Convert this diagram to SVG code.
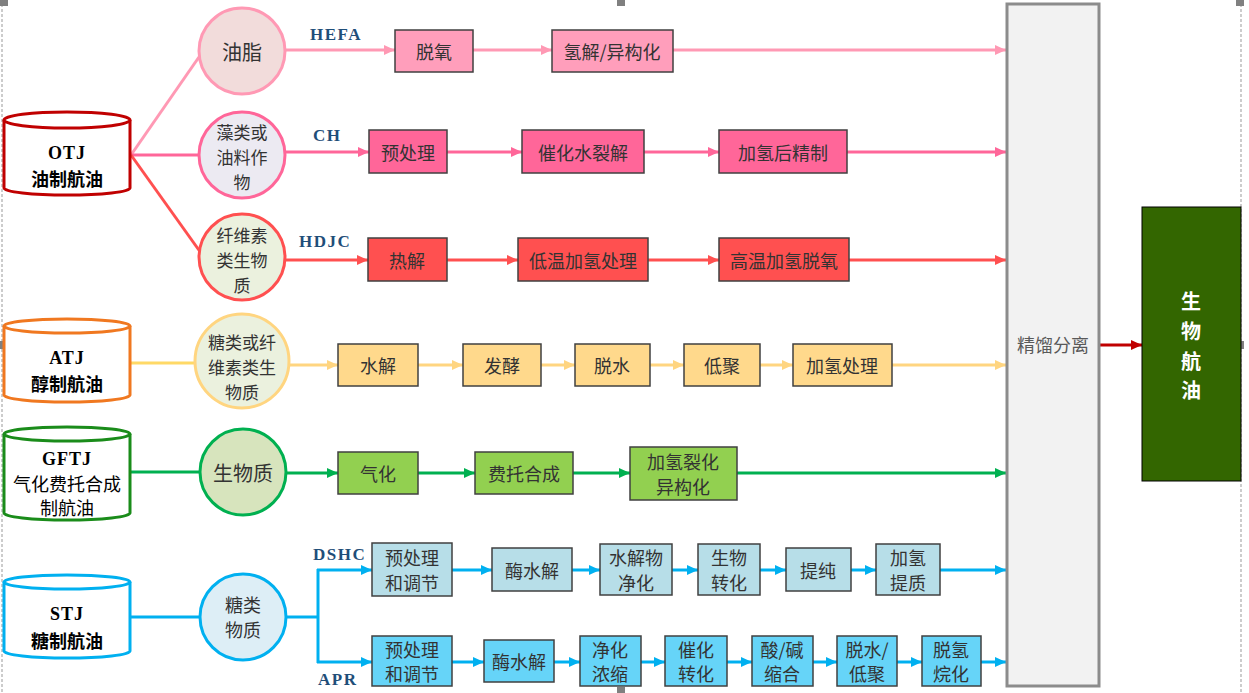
<svg xmlns="http://www.w3.org/2000/svg" width="1249" height="693" viewBox="0 0 1249 693">
<style>
text{font-family:"Noto Sans CJK SC","Liberation Sans",sans-serif;dominant-baseline:central;text-anchor:middle}
.bx{stroke:#404040;stroke-width:1.5}
.t{font-size:18px;fill:#333}
.ct{font-size:17px;fill:#333}
.ct1{font-size:20px;fill:#333}
.ct2{font-size:18px;fill:#333}
.lab{font-family:"Liberation Serif","Noto Sans CJK SC",serif;font-weight:bold;font-size:17px;letter-spacing:1.5px;fill:#1F4E79;dominant-baseline:auto;text-anchor:start}
.cy1{font-family:"Liberation Serif",serif;font-weight:bold;font-size:18px;letter-spacing:1px;fill:#000}
.cy2{font-size:18px;font-weight:bold;fill:#000}
.cy3{font-size:18px;font-weight:normal;fill:#000}
.l{fill:none;stroke-width:3}
</style>
<defs>
<marker id="a1" markerUnits="userSpaceOnUse" markerWidth="11" markerHeight="10" refX="11" refY="5" orient="auto"><path d="M0,0L11,5L0,10z" fill="#FF99B4"/></marker>
<marker id="a2" markerUnits="userSpaceOnUse" markerWidth="11" markerHeight="10" refX="11" refY="5" orient="auto"><path d="M0,0L11,5L0,10z" fill="#FF6699"/></marker>
<marker id="a3" markerUnits="userSpaceOnUse" markerWidth="11" markerHeight="10" refX="11" refY="5" orient="auto"><path d="M0,0L11,5L0,10z" fill="#FF5050"/></marker>
<marker id="a4" markerUnits="userSpaceOnUse" markerWidth="11" markerHeight="10" refX="11" refY="5" orient="auto"><path d="M0,0L11,5L0,10z" fill="#FFD580"/></marker>
<marker id="a5" markerUnits="userSpaceOnUse" markerWidth="11" markerHeight="10" refX="11" refY="5" orient="auto"><path d="M0,0L11,5L0,10z" fill="#00B050"/></marker>
<marker id="a6" markerUnits="userSpaceOnUse" markerWidth="11" markerHeight="10" refX="11" refY="5" orient="auto"><path d="M0,0L11,5L0,10z" fill="#00B0F0"/></marker>
<marker id="a7" markerUnits="userSpaceOnUse" markerWidth="11" markerHeight="10" refX="11" refY="5" orient="auto"><path d="M0,0L11,5L0,10z" fill="#C00000"/></marker>
</defs>
<rect width="1249" height="693" fill="#fff"/>
<g id="frame" stroke="#999" stroke-width="1" stroke-dasharray="3,2" fill="none">
<line x1="2" y1="4" x2="2" y2="693"/><line x1="1241" y1="4" x2="1241" y2="693"/>
</g>
<g id="handles" fill="#808080">
<rect x="0" y="0" width="8" height="6"/><rect x="617" y="0" width="8" height="6"/><rect x="1236" y="0" width="8" height="6"/>
<rect x="0" y="341" width="8" height="8"/><rect x="1236" y="341" width="8" height="8"/>
<rect x="617" y="687" width="8" height="6"/>
</g>

<g id="connectors">
<line class="l" x1="131" y1="155" x2="199" y2="57" stroke="#FF99B4"/>
<line class="l" x1="131" y1="155" x2="199" y2="155" stroke="#FF6699"/>
<line class="l" x1="131" y1="155" x2="201" y2="253" stroke="#FF5050"/>
<line class="l" x1="131" y1="363" x2="195" y2="363" stroke="#FFD966"/>
<line class="l" x1="131" y1="472" x2="200" y2="472" stroke="#00B050"/>
<line class="l" x1="131" y1="617" x2="199" y2="617" stroke="#00B0F0"/>
<g stroke="#FF99B4" class="l" marker-end="url(#a1)">
<line x1="285" y1="50" x2="395" y2="50"/><line x1="473" y1="50" x2="552" y2="50"/><line x1="673" y1="50" x2="1006" y2="50"/>
</g>
<g stroke="#FF6699" class="l" marker-end="url(#a2)">
<line x1="285" y1="152" x2="369" y2="152"/><line x1="447" y1="152" x2="522" y2="152"/><line x1="644" y1="152" x2="719" y2="152"/><line x1="847" y1="152" x2="1006" y2="152"/>
</g>
<g stroke="#FF5050" class="l" marker-end="url(#a3)">
<line x1="286" y1="260" x2="368" y2="260"/><line x1="447" y1="260" x2="518" y2="260"/><line x1="648" y1="260" x2="719" y2="260"/><line x1="849" y1="260" x2="1006" y2="260"/>
</g>
<g stroke="#FFD580" class="l" marker-end="url(#a4)">
<line x1="289" y1="365" x2="338" y2="365"/><line x1="418" y1="365" x2="463" y2="365"/><line x1="541" y1="365" x2="575" y2="365"/><line x1="650" y1="365" x2="684" y2="365"/><line x1="760" y1="365" x2="793" y2="365"/><line x1="892" y1="365" x2="1006" y2="365"/>
</g>
<g stroke="#00B050" class="l" marker-end="url(#a5)">
<line x1="286" y1="473" x2="338" y2="473"/><line x1="418" y1="473" x2="475" y2="473"/><line x1="573" y1="473" x2="630" y2="473"/><line x1="737" y1="473" x2="1006" y2="473"/>
</g>
<polyline class="l" stroke="#00B0F0" points="287,617 318,617"/>
<line class="l" stroke="#00B0F0" x1="318" y1="569" x2="318" y2="663"/>
<g stroke="#00B0F0" class="l" marker-end="url(#a6)">
<line x1="317" y1="570" x2="372" y2="570"/><line x1="452" y1="570" x2="492" y2="570"/><line x1="572" y1="570" x2="600" y2="570"/><line x1="672" y1="570" x2="698" y2="570"/><line x1="760" y1="570" x2="786" y2="570"/><line x1="851" y1="570" x2="876" y2="570"/><line x1="940" y1="570" x2="1006" y2="570"/>
<line x1="317" y1="662" x2="372" y2="662"/><line x1="452" y1="662" x2="484" y2="662"/><line x1="554" y1="662" x2="580" y2="662"/><line x1="641" y1="662" x2="665" y2="662"/><line x1="727" y1="662" x2="752" y2="662"/><line x1="813" y1="662" x2="837" y2="662"/><line x1="897" y1="662" x2="922" y2="662"/><line x1="981" y1="662" x2="1006" y2="662"/>
</g>
<line class="l" stroke="#C00000" x1="1100" y1="345" x2="1142" y2="345" marker-end="url(#a7)"/>
</g>

<g id="labels">
<text class="lab" x="310" y="40">HEFA</text>
<text class="lab" x="313" y="141">CH</text>
<text class="lab" x="299" y="247">HDJC</text>
<text class="lab" x="313" y="560">DSHC</text>
<text class="lab" x="318" y="685">APR</text>
</g>

<g id="otj" fill="#fff" stroke="#C00000" stroke-width="3">
<path d="M4,120 L4,188 A63,7 0 0 0 130,188 L130,120"/>
<ellipse cx="67" cy="120" rx="63" ry="8"/>
<text class="cy1" x="67" y="153" stroke="none">OTJ</text>
<text class="cy2" x="67" y="178" stroke="none">油制航油</text>
</g>
<g id="atj" fill="#fff" stroke="#F07820" stroke-width="3">
<path d="M4,326 L4,395 A63,7 0 0 0 130,395 L130,326"/>
<ellipse cx="67" cy="326" rx="63" ry="7"/>
<text class="cy1" x="67" y="358" stroke="none">ATJ</text>
<text class="cy2" x="67" y="383" stroke="none">醇制航油</text>
</g>
<g id="gftj" fill="#fff" stroke="#1A8C1A" stroke-width="3">
<path d="M4,434 L4,513 A63,7 0 0 0 130,513 L130,434"/>
<ellipse cx="67" cy="434" rx="63" ry="7"/>
<text class="cy1" x="67" y="459" stroke="none">GFTJ</text>
<text class="cy3" x="67" y="483" stroke="none">气化费托合成</text>
<text class="cy3" x="67" y="507" stroke="none">制航油</text>
</g>
<g id="stj" fill="#fff" stroke="#00B0F0" stroke-width="3">
<path d="M4,582 L4,651 A63,7 0 0 0 130,651 L130,582"/>
<ellipse cx="67" cy="582" rx="63" ry="7"/>
<text class="cy1" x="67" y="614" stroke="none">STJ</text>
<text class="cy2" x="67" y="640" stroke="none">糖制航油</text>
</g>

<g id="c-youzhi"><circle cx="242" cy="51" r="43" fill="#F2DCDB" stroke="#FF99B4" stroke-width="3"/><text class="ct1" x="242" y="51">油脂</text></g>
<g id="c-zaolei"><circle cx="242" cy="155" r="43" fill="#ECEAF2" stroke="#FF6699" stroke-width="3"/><text class="ct" x="242" y="131">藻类或</text><text class="ct" x="242" y="156">油料作</text><text class="ct" x="242" y="181">物</text></g>
<g id="c-xianwei"><circle cx="242" cy="257" r="43" fill="#EBF1DE" stroke="#FF5050" stroke-width="3"/><text class="ct" x="242" y="234">纤维素</text><text class="ct" x="242" y="259">类生物</text><text class="ct" x="242" y="284">质</text></g>
<g id="c-tanglei"><circle cx="242" cy="361" r="47" fill="#EBF1DE" stroke="#FFD580" stroke-width="3"/><text class="ct" x="242" y="341">糖类或纤</text><text class="ct" x="242" y="366">维素类生</text><text class="ct" x="242" y="391">物质</text></g>
<g id="c-shengwu"><circle cx="243" cy="472" r="43" fill="#D7E4BD" stroke="#00B050" stroke-width="3"/><text class="ct1" x="243" y="472">生物质</text></g>
<g id="c-tangwu"><circle cx="243" cy="617" r="43" fill="#DDEEF6" stroke="#00B0F0" stroke-width="3"/><text class="ct2" x="243" y="604">糖类</text><text class="ct2" x="243" y="629">物质</text></g>

<g id="b-hefa1"><rect class="bx" x="395" y="30" width="78" height="42" fill="#FF9EBB"/><text class="t" x="434" y="51">脱氧</text></g>
<g id="b-hefa2"><rect class="bx" x="552" y="30" width="121" height="42" fill="#FF9EBB"/><text class="t" x="612" y="51">氢解/异构化</text></g>

<g id="b-ch1"><rect class="bx" x="369" y="130" width="78" height="43" fill="#FF6699"/><text class="t" x="408" y="152">预处理</text></g>
<g id="b-ch2"><rect class="bx" x="522" y="130" width="122" height="43" fill="#FF6699"/><text class="t" x="583" y="152">催化水裂解</text></g>
<g id="b-ch3"><rect class="bx" x="719" y="130" width="128" height="43" fill="#FF6699"/><text class="t" x="783" y="152">加氢后精制</text></g>

<g id="b-hd1"><rect class="bx" x="368" y="238" width="79" height="43" fill="#FF5050"/><text class="t" x="407" y="260">热解</text></g>
<g id="b-hd2"><rect class="bx" x="518" y="238" width="130" height="43" fill="#FF5050"/><text class="t" x="583" y="260">低温加氢处理</text></g>
<g id="b-hd3"><rect class="bx" x="719" y="238" width="130" height="43" fill="#FF5050"/><text class="t" x="784" y="260">高温加氢脱氧</text></g>

<g id="b-atj1"><rect class="bx" x="338" y="344" width="80" height="42" fill="#FFD98C"/><text class="t" x="378" y="365">水解</text></g>
<g id="b-atj2"><rect class="bx" x="463" y="344" width="78" height="42" fill="#FFD98C"/><text class="t" x="502" y="365">发酵</text></g>
<g id="b-atj3"><rect class="bx" x="575" y="344" width="75" height="42" fill="#FFD98C"/><text class="t" x="612" y="365">脱水</text></g>
<g id="b-atj4"><rect class="bx" x="684" y="344" width="76" height="42" fill="#FFD98C"/><text class="t" x="722" y="365">低聚</text></g>
<g id="b-atj5"><rect class="bx" x="793" y="344" width="99" height="42" fill="#FFD98C"/><text class="t" x="842" y="365">加氢处理</text></g>

<g id="b-gf1"><rect class="bx" x="338" y="452" width="80" height="42" fill="#92D050"/><text class="t" x="378" y="473">气化</text></g>
<g id="b-gf2"><rect class="bx" x="475" y="452" width="98" height="42" fill="#92D050"/><text class="t" x="524" y="473">费托合成</text></g>
<g id="b-gf3"><rect class="bx" x="630" y="447" width="107" height="53" fill="#92D050"/><text class="t" x="683" y="461">加氢裂化</text><text class="t" x="683" y="486">异构化</text></g>

<g id="b-ds1"><rect class="bx" x="372" y="543" width="80" height="53" fill="#B7DEE8"/><text class="t" x="412" y="557">预处理</text><text class="t" x="412" y="582">和调节</text></g>
<g id="b-ds2"><rect class="bx" x="492" y="548" width="80" height="43" fill="#B7DEE8"/><text class="t" x="532" y="570">酶水解</text></g>
<g id="b-ds3"><rect class="bx" x="600" y="544" width="72" height="51" fill="#B7DEE8"/><text class="t" x="636" y="557">水解物</text><text class="t" x="636" y="582">净化</text></g>
<g id="b-ds4"><rect class="bx" x="698" y="544" width="62" height="51" fill="#B7DEE8"/><text class="t" x="729" y="557">生物</text><text class="t" x="729" y="582">转化</text></g>
<g id="b-ds5"><rect class="bx" x="786" y="548" width="65" height="43" fill="#B7DEE8"/><text class="t" x="818" y="570">提纯</text></g>
<g id="b-ds6"><rect class="bx" x="876" y="544" width="64" height="51" fill="#B7DEE8"/><text class="t" x="908" y="557">加氢</text><text class="t" x="908" y="582">提质</text></g>

<g id="b-ap1"><rect class="bx" x="372" y="636" width="80" height="50" fill="#66D4F8"/><text class="t" x="412" y="649">预处理</text><text class="t" x="412" y="673">和调节</text></g>
<g id="b-ap2"><rect class="bx" x="484" y="640" width="70" height="42" fill="#66D4F8"/><text class="t" x="519" y="661">酶水解</text></g>
<g id="b-ap3"><rect class="bx" x="580" y="636" width="61" height="50" fill="#66D4F8"/><text class="t" x="610" y="649">净化</text><text class="t" x="610" y="673">浓缩</text></g>
<g id="b-ap4"><rect class="bx" x="665" y="636" width="62" height="50" fill="#66D4F8"/><text class="t" x="696" y="649">催化</text><text class="t" x="696" y="673">转化</text></g>
<g id="b-ap5"><rect class="bx" x="752" y="636" width="61" height="50" fill="#66D4F8"/><text class="t" x="782" y="649">酸/碱</text><text class="t" x="782" y="673">缩合</text></g>
<g id="b-ap6"><rect class="bx" x="837" y="636" width="60" height="50" fill="#66D4F8"/><text class="t" x="867" y="649">脱水/</text><text class="t" x="867" y="673">低聚</text></g>
<g id="b-ap7"><rect class="bx" x="922" y="636" width="59" height="50" fill="#66D4F8"/><text class="t" x="951" y="649">脱氢</text><text class="t" x="951" y="673">烷化</text></g>

<g id="distill"><rect x="1007" y="4" width="92" height="682" fill="#F2F2F2" stroke="#8C8C8C" stroke-width="3"/><text x="1053" y="344" font-size="18" fill="#595959">精馏分离</text></g>
<g id="product"><rect x="1142" y="207" width="99" height="274" fill="#336600" stroke="#000" stroke-width="1"/>
<g font-size="20" font-weight="bold" fill="#fff"><text x="1191" y="300">生</text><text x="1191" y="330">物</text><text x="1191" y="360">航</text><text x="1191" y="389">油</text></g></g>
</svg>
